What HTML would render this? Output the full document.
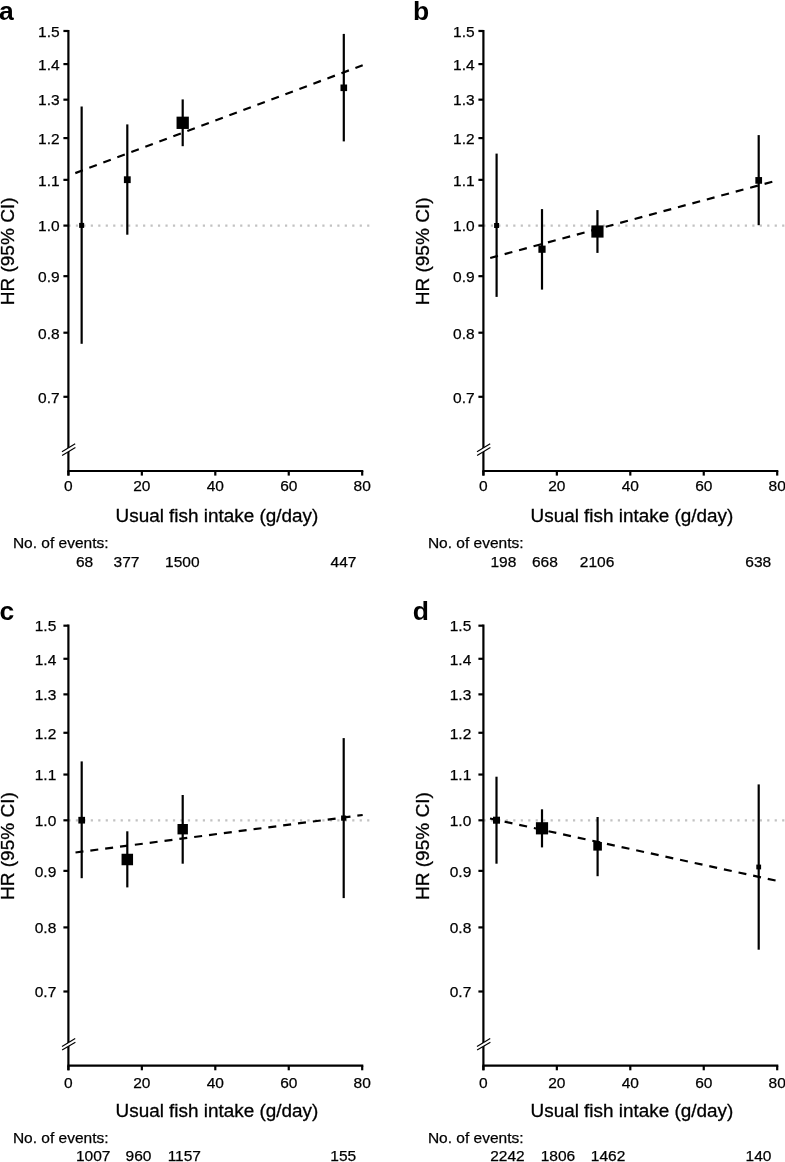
<!DOCTYPE html>
<html><head><meta charset="utf-8"><title>Figure</title>
<style>
html,body{margin:0;padding:0;background:#fff;}
body{width:785px;height:1162px;overflow:hidden;}
svg{display:block;will-change:transform;font-family:"Liberation Sans",sans-serif;}
.t{font-size:15.5px;fill:#000;stroke:#000;stroke-width:0.25px;}
.ax{font-size:18.9px;fill:#000;stroke:#000;stroke-width:0.3px;}
.ay{font-size:19.05px;fill:#000;stroke:#000;stroke-width:0.3px;}
.L{font-size:26.5px;font-weight:bold;fill:#000;}
</style></head><body>
<svg width="785" height="1162" viewBox="0 0 785 1162">
<rect width="785" height="1162" fill="#fff"/>
<g transform="translate(0,0)">
<line x1="68.35" y1="225.6" x2="369.4" y2="225.6" stroke="#c2c2c2" stroke-width="2.3" stroke-dasharray="2.2 5.27"/>
<line x1="75.3" y1="173.1" x2="362.7" y2="65.2" stroke="#000" stroke-width="2.2" stroke-dasharray="8 6.96"/>
<line x1="68.4" y1="29.9" x2="68.4" y2="475.5" stroke="#000" stroke-width="2.2"/>
<line x1="67.45" y1="471" x2="363.3" y2="471" stroke="#000" stroke-width="2.2"/>
<line x1="63.4" y1="30.98" x2="68.4" y2="30.98" stroke="#000" stroke-width="2.2"/>
<text class="t" x="59.60" y="36.78" text-anchor="end">1.5</text>
<line x1="63.4" y1="64.09" x2="68.4" y2="64.09" stroke="#000" stroke-width="2.2"/>
<text class="t" x="59.60" y="69.89" text-anchor="end">1.4</text>
<line x1="63.4" y1="99.67" x2="68.4" y2="99.67" stroke="#000" stroke-width="2.2"/>
<text class="t" x="59.60" y="105.47" text-anchor="end">1.3</text>
<line x1="63.4" y1="138.09" x2="68.4" y2="138.09" stroke="#000" stroke-width="2.2"/>
<text class="t" x="59.60" y="143.89" text-anchor="end">1.2</text>
<line x1="63.4" y1="179.85" x2="68.4" y2="179.85" stroke="#000" stroke-width="2.2"/>
<text class="t" x="59.60" y="185.65" text-anchor="end">1.1</text>
<line x1="63.4" y1="225.60" x2="68.4" y2="225.60" stroke="#000" stroke-width="2.2"/>
<text class="t" x="59.60" y="231.40" text-anchor="end">1.0</text>
<line x1="63.4" y1="276.17" x2="68.4" y2="276.17" stroke="#000" stroke-width="2.2"/>
<text class="t" x="59.60" y="281.97" text-anchor="end">0.9</text>
<line x1="63.4" y1="332.71" x2="68.4" y2="332.71" stroke="#000" stroke-width="2.2"/>
<text class="t" x="59.60" y="338.51" text-anchor="end">0.8</text>
<line x1="63.4" y1="396.80" x2="68.4" y2="396.80" stroke="#000" stroke-width="2.2"/>
<text class="t" x="59.60" y="402.60" text-anchor="end">0.7</text>
<line x1="68.40" y1="471" x2="68.40" y2="475.6" stroke="#000" stroke-width="2.2"/>
<text class="t" x="68.40" y="490.90" text-anchor="middle">0</text>
<line x1="141.85" y1="471" x2="141.85" y2="475.6" stroke="#000" stroke-width="2.2"/>
<text class="t" x="141.85" y="490.90" text-anchor="middle">20</text>
<line x1="215.30" y1="471" x2="215.30" y2="475.6" stroke="#000" stroke-width="2.2"/>
<text class="t" x="215.30" y="490.90" text-anchor="middle">40</text>
<line x1="288.75" y1="471" x2="288.75" y2="475.6" stroke="#000" stroke-width="2.2"/>
<text class="t" x="288.75" y="490.90" text-anchor="middle">60</text>
<line x1="362.20" y1="471" x2="362.20" y2="475.6" stroke="#000" stroke-width="2.2"/>
<text class="t" x="362.20" y="490.90" text-anchor="middle">80</text>
<polygon points="62,451.7 75.2,443.8 75.4,447.5 62.1,455.4" fill="#fff"/>
<line x1="62" y1="451.7" x2="75.2" y2="443.8" stroke="#000" stroke-width="1.15"/>
<line x1="62.1" y1="455.4" x2="75.4" y2="447.5" stroke="#000" stroke-width="1.15"/>
<line x1="81.65" y1="106.5" x2="81.65" y2="343.8" stroke="#000" stroke-width="2.2"/>
<rect x="79.15" y="222.90" width="5.0" height="5.0" fill="#000"/>
<line x1="127.3" y1="124.4" x2="127.3" y2="234.7" stroke="#000" stroke-width="2.2"/>
<rect x="123.90" y="176.30" width="6.8" height="6.8" fill="#000"/>
<line x1="182.7" y1="99.4" x2="182.7" y2="146.2" stroke="#000" stroke-width="2.2"/>
<rect x="176.55" y="116.65" width="12.3" height="12.3" fill="#000"/>
<line x1="343.8" y1="33.9" x2="343.8" y2="141.4" stroke="#000" stroke-width="2.2"/>
<rect x="340.50" y="84.50" width="6.6" height="6.6" fill="#000"/>
<text class="ax" x="216.9" y="522.1" text-anchor="middle">Usual fish intake (g/day)</text>
<text class="ay" transform="translate(14,251.4) rotate(-90)" text-anchor="middle">HR (95% CI)</text>
<text class="t" x="12.9" y="548.3">No. of events:</text>
<text class="t" x="84.5" y="566.7" text-anchor="middle">68</text>
<text class="t" x="126.5" y="566.7" text-anchor="middle">377</text>
<text class="t" x="182.3" y="566.7" text-anchor="middle">1500</text>
<text class="t" x="343.5" y="566.7" text-anchor="middle">447</text>
<text class="L" x="-1.0" y="19.7">a</text>
</g>
<g transform="translate(415,0)">
<line x1="68.35" y1="225.6" x2="369.4" y2="225.6" stroke="#c2c2c2" stroke-width="2.3" stroke-dasharray="2.2 5.27"/>
<line x1="75.2" y1="258.0" x2="362.7" y2="180.3" stroke="#000" stroke-width="2.2" stroke-dasharray="8 6.96"/>
<line x1="68.4" y1="29.9" x2="68.4" y2="475.5" stroke="#000" stroke-width="2.2"/>
<line x1="67.45" y1="471" x2="363.3" y2="471" stroke="#000" stroke-width="2.2"/>
<line x1="63.4" y1="30.98" x2="68.4" y2="30.98" stroke="#000" stroke-width="2.2"/>
<text class="t" x="59.60" y="36.78" text-anchor="end">1.5</text>
<line x1="63.4" y1="64.09" x2="68.4" y2="64.09" stroke="#000" stroke-width="2.2"/>
<text class="t" x="59.60" y="69.89" text-anchor="end">1.4</text>
<line x1="63.4" y1="99.67" x2="68.4" y2="99.67" stroke="#000" stroke-width="2.2"/>
<text class="t" x="59.60" y="105.47" text-anchor="end">1.3</text>
<line x1="63.4" y1="138.09" x2="68.4" y2="138.09" stroke="#000" stroke-width="2.2"/>
<text class="t" x="59.60" y="143.89" text-anchor="end">1.2</text>
<line x1="63.4" y1="179.85" x2="68.4" y2="179.85" stroke="#000" stroke-width="2.2"/>
<text class="t" x="59.60" y="185.65" text-anchor="end">1.1</text>
<line x1="63.4" y1="225.60" x2="68.4" y2="225.60" stroke="#000" stroke-width="2.2"/>
<text class="t" x="59.60" y="231.40" text-anchor="end">1.0</text>
<line x1="63.4" y1="276.17" x2="68.4" y2="276.17" stroke="#000" stroke-width="2.2"/>
<text class="t" x="59.60" y="281.97" text-anchor="end">0.9</text>
<line x1="63.4" y1="332.71" x2="68.4" y2="332.71" stroke="#000" stroke-width="2.2"/>
<text class="t" x="59.60" y="338.51" text-anchor="end">0.8</text>
<line x1="63.4" y1="396.80" x2="68.4" y2="396.80" stroke="#000" stroke-width="2.2"/>
<text class="t" x="59.60" y="402.60" text-anchor="end">0.7</text>
<line x1="68.40" y1="471" x2="68.40" y2="475.6" stroke="#000" stroke-width="2.2"/>
<text class="t" x="68.40" y="490.90" text-anchor="middle">0</text>
<line x1="141.85" y1="471" x2="141.85" y2="475.6" stroke="#000" stroke-width="2.2"/>
<text class="t" x="141.85" y="490.90" text-anchor="middle">20</text>
<line x1="215.30" y1="471" x2="215.30" y2="475.6" stroke="#000" stroke-width="2.2"/>
<text class="t" x="215.30" y="490.90" text-anchor="middle">40</text>
<line x1="288.75" y1="471" x2="288.75" y2="475.6" stroke="#000" stroke-width="2.2"/>
<text class="t" x="288.75" y="490.90" text-anchor="middle">60</text>
<line x1="362.20" y1="471" x2="362.20" y2="475.6" stroke="#000" stroke-width="2.2"/>
<text class="t" x="362.20" y="490.90" text-anchor="middle">80</text>
<polygon points="62,451.7 75.2,443.8 75.4,447.5 62.1,455.4" fill="#fff"/>
<line x1="62" y1="451.7" x2="75.2" y2="443.8" stroke="#000" stroke-width="1.15"/>
<line x1="62.1" y1="455.4" x2="75.4" y2="447.5" stroke="#000" stroke-width="1.15"/>
<line x1="81.6" y1="153.6" x2="81.6" y2="296.9" stroke="#000" stroke-width="2.2"/>
<rect x="79.10" y="223.00" width="5.0" height="5.0" fill="#000"/>
<line x1="127.0" y1="209.1" x2="127.0" y2="289.6" stroke="#000" stroke-width="2.2"/>
<rect x="123.40" y="245.60" width="7.2" height="7.2" fill="#000"/>
<line x1="182.45" y1="210.1" x2="182.45" y2="252.9" stroke="#000" stroke-width="2.2"/>
<rect x="176.35" y="225.40" width="12.2" height="12.2" fill="#000"/>
<line x1="343.7" y1="135.1" x2="343.7" y2="225.2" stroke="#000" stroke-width="2.2"/>
<rect x="340.35" y="177.05" width="6.7" height="6.7" fill="#000"/>
<text class="ax" x="216.9" y="522.1" text-anchor="middle">Usual fish intake (g/day)</text>
<text class="ay" transform="translate(14,251.4) rotate(-90)" text-anchor="middle">HR (95% CI)</text>
<text class="t" x="12.9" y="548.3">No. of events:</text>
<text class="t" x="88.4" y="566.7" text-anchor="middle">198</text>
<text class="t" x="129.9" y="566.7" text-anchor="middle">668</text>
<text class="t" x="182.1" y="566.7" text-anchor="middle">2106</text>
<text class="t" x="343.3" y="566.7" text-anchor="middle">638</text>
<text class="L" x="-2.0" y="19.7">b</text>
</g>
<g transform="translate(0,594.7)">
<line x1="68.35" y1="225.6" x2="369.4" y2="225.6" stroke="#c2c2c2" stroke-width="2.3" stroke-dasharray="2.2 5.27"/>
<line x1="75.5" y1="257.8" x2="362.7" y2="220.3" stroke="#000" stroke-width="2.2" stroke-dasharray="8 6.96"/>
<line x1="68.4" y1="29.9" x2="68.4" y2="475.5" stroke="#000" stroke-width="2.2"/>
<line x1="67.45" y1="471" x2="363.3" y2="471" stroke="#000" stroke-width="2.2"/>
<line x1="63.4" y1="30.98" x2="68.4" y2="30.98" stroke="#000" stroke-width="2.2"/>
<text class="t" x="56.30" y="36.78" text-anchor="end">1.5</text>
<line x1="63.4" y1="64.09" x2="68.4" y2="64.09" stroke="#000" stroke-width="2.2"/>
<text class="t" x="56.30" y="69.89" text-anchor="end">1.4</text>
<line x1="63.4" y1="99.67" x2="68.4" y2="99.67" stroke="#000" stroke-width="2.2"/>
<text class="t" x="56.30" y="105.47" text-anchor="end">1.3</text>
<line x1="63.4" y1="138.09" x2="68.4" y2="138.09" stroke="#000" stroke-width="2.2"/>
<text class="t" x="56.30" y="143.89" text-anchor="end">1.2</text>
<line x1="63.4" y1="179.85" x2="68.4" y2="179.85" stroke="#000" stroke-width="2.2"/>
<text class="t" x="56.30" y="185.65" text-anchor="end">1.1</text>
<line x1="63.4" y1="225.60" x2="68.4" y2="225.60" stroke="#000" stroke-width="2.2"/>
<text class="t" x="56.30" y="231.40" text-anchor="end">1.0</text>
<line x1="63.4" y1="276.17" x2="68.4" y2="276.17" stroke="#000" stroke-width="2.2"/>
<text class="t" x="56.30" y="281.97" text-anchor="end">0.9</text>
<line x1="63.4" y1="332.71" x2="68.4" y2="332.71" stroke="#000" stroke-width="2.2"/>
<text class="t" x="56.30" y="338.51" text-anchor="end">0.8</text>
<line x1="63.4" y1="396.80" x2="68.4" y2="396.80" stroke="#000" stroke-width="2.2"/>
<text class="t" x="56.30" y="402.60" text-anchor="end">0.7</text>
<line x1="68.40" y1="471" x2="68.40" y2="475.6" stroke="#000" stroke-width="2.2"/>
<text class="t" x="68.40" y="492.90" text-anchor="middle">0</text>
<line x1="141.85" y1="471" x2="141.85" y2="475.6" stroke="#000" stroke-width="2.2"/>
<text class="t" x="141.85" y="492.90" text-anchor="middle">20</text>
<line x1="215.30" y1="471" x2="215.30" y2="475.6" stroke="#000" stroke-width="2.2"/>
<text class="t" x="215.30" y="492.90" text-anchor="middle">40</text>
<line x1="288.75" y1="471" x2="288.75" y2="475.6" stroke="#000" stroke-width="2.2"/>
<text class="t" x="288.75" y="492.90" text-anchor="middle">60</text>
<line x1="362.20" y1="471" x2="362.20" y2="475.6" stroke="#000" stroke-width="2.2"/>
<text class="t" x="362.20" y="492.90" text-anchor="middle">80</text>
<polygon points="62,451.7 75.2,443.8 75.4,447.5 62.1,455.4" fill="#fff"/>
<line x1="62" y1="451.7" x2="75.2" y2="443.8" stroke="#000" stroke-width="1.15"/>
<line x1="62.1" y1="455.4" x2="75.4" y2="447.5" stroke="#000" stroke-width="1.15"/>
<line x1="81.7" y1="166.7" x2="81.7" y2="283.5" stroke="#000" stroke-width="2.2"/>
<rect x="78.35" y="222.15" width="6.7" height="6.7" fill="#000"/>
<line x1="127.3" y1="236.6" x2="127.3" y2="292.7" stroke="#000" stroke-width="2.2"/>
<rect x="121.55" y="259.05" width="11.5" height="11.5" fill="#000"/>
<line x1="182.7" y1="200.3" x2="182.7" y2="269.0" stroke="#000" stroke-width="2.2"/>
<rect x="177.50" y="229.30" width="10.4" height="10.4" fill="#000"/>
<line x1="343.7" y1="143.4" x2="343.7" y2="303.4" stroke="#000" stroke-width="2.2"/>
<rect x="341.10" y="220.80" width="5.2" height="5.2" fill="#000"/>
<text class="ax" x="216.9" y="522.1" text-anchor="middle">Usual fish intake (g/day)</text>
<text class="ay" transform="translate(14,251.4) rotate(-90)" text-anchor="middle">HR (95% CI)</text>
<text class="t" x="12.9" y="548.3">No. of events:</text>
<text class="t" x="93.2" y="566.7" text-anchor="middle">1007</text>
<text class="t" x="138.5" y="566.7" text-anchor="middle">960</text>
<text class="t" x="184.3" y="566.7" text-anchor="middle">1157</text>
<text class="t" x="343.3" y="566.7" text-anchor="middle">155</text>
<text class="L" x="-0.5" y="24.9">c</text>
</g>
<g transform="translate(415,594.7)">
<line x1="68.35" y1="225.6" x2="369.4" y2="225.6" stroke="#c2c2c2" stroke-width="2.3" stroke-dasharray="2.2 5.27"/>
<line x1="75.0" y1="223.8" x2="362.7" y2="286.3" stroke="#000" stroke-width="2.2" stroke-dasharray="8 6.96"/>
<line x1="68.4" y1="29.9" x2="68.4" y2="475.5" stroke="#000" stroke-width="2.2"/>
<line x1="67.45" y1="471" x2="363.3" y2="471" stroke="#000" stroke-width="2.2"/>
<line x1="63.4" y1="30.98" x2="68.4" y2="30.98" stroke="#000" stroke-width="2.2"/>
<text class="t" x="56.30" y="36.78" text-anchor="end">1.5</text>
<line x1="63.4" y1="64.09" x2="68.4" y2="64.09" stroke="#000" stroke-width="2.2"/>
<text class="t" x="56.30" y="69.89" text-anchor="end">1.4</text>
<line x1="63.4" y1="99.67" x2="68.4" y2="99.67" stroke="#000" stroke-width="2.2"/>
<text class="t" x="56.30" y="105.47" text-anchor="end">1.3</text>
<line x1="63.4" y1="138.09" x2="68.4" y2="138.09" stroke="#000" stroke-width="2.2"/>
<text class="t" x="56.30" y="143.89" text-anchor="end">1.2</text>
<line x1="63.4" y1="179.85" x2="68.4" y2="179.85" stroke="#000" stroke-width="2.2"/>
<text class="t" x="56.30" y="185.65" text-anchor="end">1.1</text>
<line x1="63.4" y1="225.60" x2="68.4" y2="225.60" stroke="#000" stroke-width="2.2"/>
<text class="t" x="56.30" y="231.40" text-anchor="end">1.0</text>
<line x1="63.4" y1="276.17" x2="68.4" y2="276.17" stroke="#000" stroke-width="2.2"/>
<text class="t" x="56.30" y="281.97" text-anchor="end">0.9</text>
<line x1="63.4" y1="332.71" x2="68.4" y2="332.71" stroke="#000" stroke-width="2.2"/>
<text class="t" x="56.30" y="338.51" text-anchor="end">0.8</text>
<line x1="63.4" y1="396.80" x2="68.4" y2="396.80" stroke="#000" stroke-width="2.2"/>
<text class="t" x="56.30" y="402.60" text-anchor="end">0.7</text>
<line x1="68.40" y1="471" x2="68.40" y2="475.6" stroke="#000" stroke-width="2.2"/>
<text class="t" x="68.40" y="492.90" text-anchor="middle">0</text>
<line x1="141.85" y1="471" x2="141.85" y2="475.6" stroke="#000" stroke-width="2.2"/>
<text class="t" x="141.85" y="492.90" text-anchor="middle">20</text>
<line x1="215.30" y1="471" x2="215.30" y2="475.6" stroke="#000" stroke-width="2.2"/>
<text class="t" x="215.30" y="492.90" text-anchor="middle">40</text>
<line x1="288.75" y1="471" x2="288.75" y2="475.6" stroke="#000" stroke-width="2.2"/>
<text class="t" x="288.75" y="492.90" text-anchor="middle">60</text>
<line x1="362.20" y1="471" x2="362.20" y2="475.6" stroke="#000" stroke-width="2.2"/>
<text class="t" x="362.20" y="492.90" text-anchor="middle">80</text>
<polygon points="62,451.7 75.2,443.8 75.4,447.5 62.1,455.4" fill="#fff"/>
<line x1="62" y1="451.7" x2="75.2" y2="443.8" stroke="#000" stroke-width="1.15"/>
<line x1="62.1" y1="455.4" x2="75.4" y2="447.5" stroke="#000" stroke-width="1.15"/>
<line x1="81.5" y1="182.0" x2="81.5" y2="269.0" stroke="#000" stroke-width="2.2"/>
<rect x="78.00" y="222.00" width="7.0" height="7.0" fill="#000"/>
<line x1="127.0" y1="214.6" x2="127.0" y2="252.7" stroke="#000" stroke-width="2.2"/>
<rect x="120.90" y="227.50" width="12.2" height="12.2" fill="#000"/>
<line x1="182.6" y1="222.3" x2="182.6" y2="281.5" stroke="#000" stroke-width="2.2"/>
<rect x="178.30" y="247.30" width="8.6" height="8.6" fill="#000"/>
<line x1="343.7" y1="189.7" x2="343.7" y2="355.0" stroke="#000" stroke-width="2.2"/>
<rect x="341.30" y="269.90" width="4.8" height="4.8" fill="#000"/>
<text class="ax" x="216.9" y="522.1" text-anchor="middle">Usual fish intake (g/day)</text>
<text class="ay" transform="translate(14,251.4) rotate(-90)" text-anchor="middle">HR (95% CI)</text>
<text class="t" x="12.9" y="548.3">No. of events:</text>
<text class="t" x="92.5" y="566.7" text-anchor="middle">2242</text>
<text class="t" x="143.0" y="566.7" text-anchor="middle">1806</text>
<text class="t" x="193.1" y="566.7" text-anchor="middle">1462</text>
<text class="t" x="343.5" y="566.7" text-anchor="middle">140</text>
<text class="L" x="-2.3" y="24.9">d</text>
</g>
</svg></body></html>
